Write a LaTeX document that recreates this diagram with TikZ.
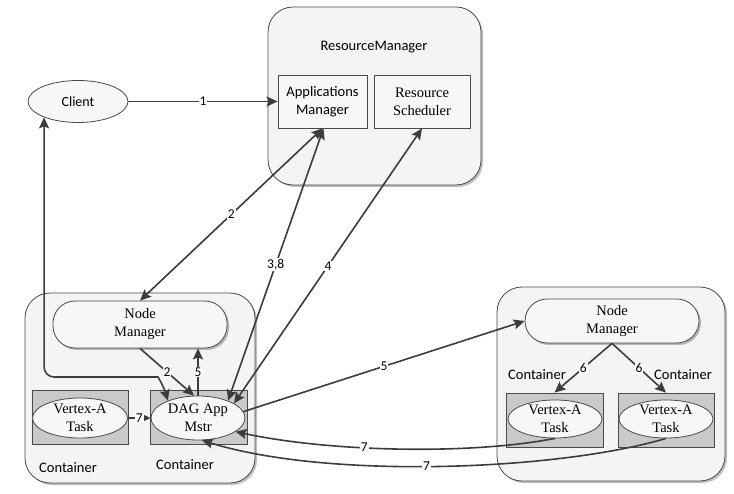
\documentclass[tikz,border=0pt]{standalone}
\usepackage{fontspec}
\setmainfont{Liberation Serif}
\newfontfamily\calfont{Carlito}
\usetikzlibrary{shapes.geometric,arrows.meta,shadows}
\definecolor{linec}{HTML}{3C3C3C}
\definecolor{edgec}{HTML}{4A4A4A}
\definecolor{boxgray}{HTML}{C9C9C9}
\definecolor{panel}{HTML}{F4F4F4}
\definecolor{lightfill}{HTML}{F7F7F7}
\begin{document}
\begin{tikzpicture}[x=1pt,y=-1pt,
  tip/.tip={Stealth[length=11pt,width=10pt,inset=2pt]},
  conn/.style={draw=linec, line width=1.6pt},
  arr/.style={conn, -tip},
  darr/.style={conn, tip-tip},
  lab/.style={font=\calfont\fontsize{13.5}{13.5}\selectfont, fill=white, inner sep=1pt, text=black},
  shad/.style={drop shadow={shadow xshift=2pt, shadow yshift=-2pt, opacity=0.25, fill=black}},
  bigbox/.style={draw=edgec, line width=0.8pt, rounded corners=25pt, fill=panel, shad},
  pill/.style={draw=edgec, line width=0.8pt, rounded corners=22pt, fill=lightfill, shad, align=center, font=\fontsize{14.5}{18}\selectfont},
  sqbox/.style={draw=edgec, line width=0.8pt, fill=lightfill, align=center, font=\fontsize{14.5}{18}\selectfont},
  graybox/.style={draw=edgec, line width=0.8pt, fill=boxgray, minimum width=96pt, minimum height=54pt},
  ell/.style={ellipse, draw=edgec, line width=0.8pt, fill=lightfill, align=center, inner sep=-2pt, font=\fontsize{14.5}{18}\selectfont},
  stext/.style={font=\calfont\fontsize{14.5}{16}\selectfont}
]
\useasboundingbox (0,0) rectangle (734,494);
\fill[white] (0,0) rectangle (734,494);

% ResourceManager
\node[bigbox, minimum width=213pt, minimum height=178pt] (rm) at (374.5,96) {};
\node[stext] (rmlabel) at (374,47) {ResourceManager};
\node[sqbox, minimum width=89pt, minimum height=53pt, font=\calfont\fontsize{14.5}{18}\selectfont] (am) at (322.5,101.5) {Applications\\Manager};
\node[sqbox, minimum width=96pt, minimum height=53pt] (rs) at (422,101.5) {Resource\\Scheduler};

% Client
\node[ell, minimum width=100pt, minimum height=42pt, inner sep=0pt, font=\calfont\fontsize{14}{16}\selectfont] (client) at (78,101.5) {Client};

% Left container
\node[bigbox, minimum width=230pt, minimum height=190pt] (lc) at (140,388) {};
\node[pill, minimum width=174pt, minimum height=47pt] (lnm) at (140,324.5) {Node\\Manager};
\node[graybox] (lvbox) at (80,417) {};
\node[ell, minimum width=95pt, minimum height=40pt] (lv) at (80,418) {Vertex-A\\Task};
\node[graybox, minimum width=97pt] (dbox) at (198.5,417) {};
\node[ell, minimum width=94pt, minimum height=44pt] (dag) at (198,418) {DAG App\\Mstr};
\node[stext] (lcl1) at (68,468) {Container};
\node[stext] (lcl2) at (185,465) {Container};

% Right container
\node[bigbox, minimum width=228pt, minimum height=194pt] (rc) at (611,384) {};
\node[pill, minimum width=174pt, minimum height=44pt] (rnm) at (612,321) {Node\\Manager};
\node[graybox, minimum width=97pt] (rv1box) at (554.5,420) {};
\node[ell, minimum width=94pt, minimum height=38pt] (rv1) at (555,419) {Vertex-A\\Task};
\node[graybox] (rv2box) at (666,420) {};
\node[ell, minimum width=94pt, minimum height=38pt] (rv2) at (666,419) {Vertex-A\\Task};
\node[stext] (rcl1) at (537,375) {Container};
\node[stext] (rcl2) at (683,375) {Container};

% Connectors
\draw[arr] (client.east) -- node[lab]{1} (am.west);
\draw[darr] (am.south) -- node[lab]{2} (lnm.north);
\draw[darr] (dag.30) -- node[lab]{3,8} ([xshift=1pt]am.south);
\draw[darr] (dag.22) -- node[lab]{4} (rs.south);
\draw[arr] (lnm.south) -- node[lab]{2} (dag.100);
\draw[arr] (dag.north) -- node[lab]{5} (dag.north |- lnm.south);
\draw[darr, rounded corners=10pt] (client.205) |- (148,377) .. controls (158,377) and (163,385) .. (dag.150);
\draw[arr] (dag.8) -- node[lab]{5} (rnm.west);
\draw[arr] (lv.east) -- node[lab]{7} (dag.west);
\draw[arr] (rnm.south) -- node[lab]{6} (rv1box.north);
\draw[arr] (rnm.south) -- node[lab]{6} (rv2box.north);
\draw[arr] (rv1.south) .. controls (470,455) and (330,452) .. node[lab, pos=0.6]{7} (dag.-20);
\draw[arr] (rv2.south) .. controls (560,470) and (330,480) .. node[lab, pos=0.53]{7} (dag.-80);
\end{tikzpicture}
\end{document}
